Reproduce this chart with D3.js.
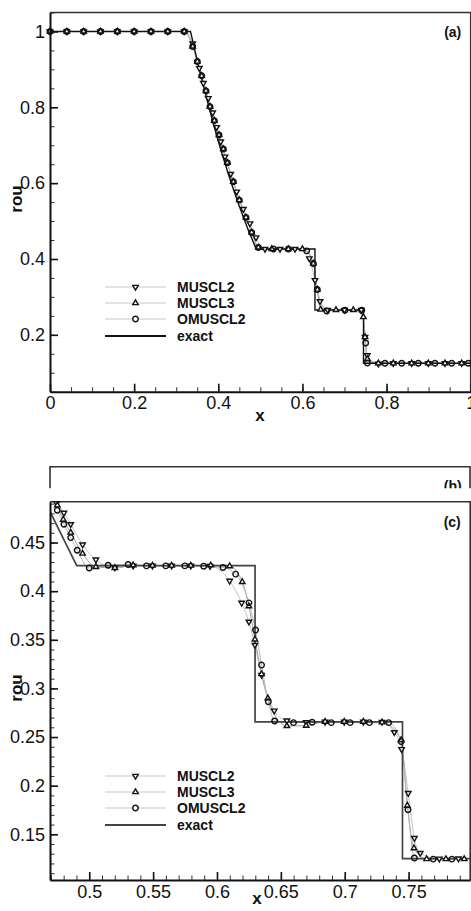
<!DOCTYPE html>
<html><head><meta charset="utf-8">
<script src="https://cdn.jsdelivr.net/npm/d3@7"></script>
<style>body{margin:0;background:#fff}svg{display:block}</style>
</head><body><svg id="chart" width="471" height="911"></svg>
<script>
// ---------------- data ----------------
const seriesNames = ["MUSCL2", "MUSCL3", "OMUSCL2", "exact"];

// exact solution (shared by both panels)
const exactX   = [0, 0.334, 0.35, 0.37, 0.39, 0.41, 0.43, 0.45, 0.47, 0.4902, 0.6298, 0.6298, 0.7452, 0.7452, 1];
const exactRho = [1, 1, 0.923, 0.833, 0.750, 0.673, 0.603, 0.539, 0.480, 0.4263, 0.4263, 0.2656, 0.2656, 0.125, 0.125];

// panel (a) symbols
const aMuscl2X   = [0,0.04,0.08,0.12,0.16,0.2,0.24,0.28,0.319,0.3392,0.355,0.3645,0.3763,0.3867,0.3962,0.4057,0.416,0.4295,0.4437,0.4595,0.4754,0.4897,0.511,0.5467,0.5824,0.6164,0.6299,0.6418,0.66,0.70,0.74,0.7488,0.7543,0.7804,0.816,0.8597,0.8992,0.9389,0.9786];
const aMuscl2Rho = [1,1,1,1,1,1,1,1,1,0.968,0.9033,0.8637,0.824,0.786,0.7474,0.7094,0.6697,0.624,0.5773,0.5316,0.4938,0.4568,0.4263,0.4263,0.4263,0.4013,0.344,0.2885,0.2656,0.2656,0.2656,0.1942,0.1458,0.1237,0.125,0.125,0.125,0.125,0.125];
const aMuscl3X   = [0,0.04,0.08,0.12,0.16,0.2,0.24,0.28,0.319,0.3392,0.3502,0.3606,0.3708,0.3803,0.3906,0.4017,0.412,0.4215,0.4358,0.45,0.4659,0.4794,0.4952,0.527,0.5666,0.6,0.6259,0.6354,0.6434,0.6798,0.721,0.7448,0.7488,0.7543,0.7804,0.816,0.8597,0.8992,0.9389,0.9786];
const aMuscl3Rho = [1,1,1,1,1,1,1,1,1,0.9604,0.9207,0.883,0.8433,0.8018,0.7649,0.7271,0.6901,0.6539,0.6037,0.5553,0.5096,0.47,0.4304,0.4263,0.4263,0.4263,0.388,0.3194,0.2666,0.2656,0.2656,0.247,0.1942,0.136,0.125,0.125,0.125,0.125,0.125,0.125];
const aOmusclX   = [0,0.04,0.08,0.12,0.16,0.2,0.24,0.28,0.319,0.3392,0.3502,0.3606,0.3708,0.3803,0.3906,0.4017,0.412,0.4215,0.4358,0.45,0.4659,0.4794,0.4952,0.531,0.5666,0.6102,0.6259,0.6354,0.6577,0.7012,0.741,0.7504,0.7545,0.7963,0.836,0.8755,0.9151,0.9548,0.9943];
const aOmusclRho = [1,1,1,1,1,1,1,1,1,0.9604,0.9207,0.883,0.8433,0.8018,0.7649,0.7271,0.6901,0.6539,0.6037,0.5553,0.5096,0.47,0.4304,0.4263,0.4263,0.4214,0.388,0.3194,0.2629,0.2647,0.2647,0.1783,0.1255,0.125,0.125,0.125,0.125,0.125,0.125];

// panel (c) symbols (zoom)
const cMuscl2X   = [0.4745,0.4802,0.4855,0.4948,0.5052,0.5201,0.5344,0.5495,0.5645,0.5795,0.5945,0.6099,0.6193,0.625,0.6297,0.6349,0.6448,0.6547,0.6698,0.6846,0.6996,0.7146,0.7292,0.7388,0.7445,0.7497,0.7545,0.7591,0.774,0.789];
const cMuscl2Rho = [0.4905,0.4805,0.4688,0.4479,0.4325,0.4243,0.4262,0.4262,0.4262,0.4262,0.4258,0.4106,0.388,0.3685,0.3446,0.3138,0.2771,0.2669,0.2652,0.2656,0.2656,0.2656,0.2655,0.2549,0.2375,0.1923,0.1461,0.1307,0.1249,0.125];
const cMuscl3X   = [0.475,0.4797,0.4855,0.4948,0.5052,0.5201,0.5344,0.5495,0.5645,0.5795,0.5951,0.6099,0.6198,0.625,0.6297,0.6349,0.6398,0.6547,0.6698,0.6846,0.6996,0.7146,0.7292,0.7441,0.749,0.7542,0.7641,0.7792,0.7935];
const cMuscl3Rho = [0.4883,0.4736,0.4603,0.4387,0.425,0.4239,0.4267,0.4264,0.4264,0.4264,0.4267,0.4257,0.4095,0.3846,0.3504,0.3148,0.2898,0.2614,0.2617,0.2658,0.2658,0.2658,0.2652,0.247,0.1795,0.1358,0.1245,0.1245,0.1245];
const cOmusclX   = [0.475,0.4802,0.4855,0.4906,0.5,0.5148,0.5305,0.5448,0.5599,0.5748,0.5896,0.6047,0.6146,0.625,0.6302,0.6349,0.6402,0.6451,0.6599,0.6745,0.6894,0.7042,0.7193,0.7344,0.7441,0.7495,0.7545,0.7693,0.7839];
const cOmusclRho = [0.4832,0.4688,0.4551,0.4421,0.4239,0.4267,0.4274,0.426,0.426,0.426,0.4257,0.4243,0.4175,0.388,0.36,0.324,0.2863,0.2665,0.2648,0.2652,0.2648,0.2648,0.2648,0.2648,0.2453,0.1752,0.1256,0.1245,0.1245];

// ticks
const aXTicks = [0, 0.2, 0.4, 0.6, 0.8, 1];
const aXTickLabels = ["0", "0.2", "0.4", "0.6", "0.8", "1"];
const aYTicks = [0.2, 0.4, 0.6, 0.8, 1];
const aYTickLabels = ["0.2", "0.4", "0.6", "0.8", "1"];
const cXTicks = [0.5, 0.55, 0.6, 0.65, 0.7, 0.75];
const cXTickLabels = ["0.5", "0.55", "0.6", "0.65", "0.7", "0.75"];
const cYTicks = [0.15, 0.2, 0.25, 0.3, 0.35, 0.4, 0.45];
const cYTickLabels = ["0.15", "0.2", "0.25", "0.3", "0.35", "0.4", "0.45"];

// ---------------- drawing ----------------
const FONT = '"Liberation Sans", Arial, Helvetica, sans-serif';
const svg = d3.select("#chart");
svg.append("rect").attr("width", 471).attr("height", 911).attr("fill", "#fff");

const zip = (xs, ys) => xs.map((v, i) => ({x: v, y: ys[i]}));
const symTri = d3.symbol().type(d3.symbolTriangle).size(13);
const symCirc = d3.symbol().type(d3.symbolCircle).size(24);
const markerDefs = {
  MUSCL2: {path: symTri(), rot: 180, fill: "#fff"},
  MUSCL3: {path: symTri(), rot: 0, fill: "#fff"},
  OMUSCL2: {path: symCirc(), rot: 0, fill: "none"}
};
const lineColors = {MUSCL2: "#c2c2c2", MUSCL3: "#9e9e9e", OMUSCL2: "#b8b8b8"};

function minorRange(a, b, step) {
  const out = [];
  const n = Math.round((b - a) / step);
  for (let i = 0; i <= n; i++) out.push(+(a + i * step).toFixed(6));
  return out;
}

function panel(cfg) {
  const g = svg.append("g");
  const x = d3.scaleLinear().domain(cfg.xDomain).range([cfg.left, cfg.right]);
  const y = d3.scaleLinear().domain(cfg.yDomain).range([cfg.bottom, cfg.top]);

  g.append("rect").attr("x", 0).attr("y", cfg.bgTop).attr("width", 471)
    .attr("height", cfg.bgBottom - cfg.bgTop).attr("fill", "#fff");

  const clipId = "clip" + cfg.id;
  g.append("clipPath").attr("id", clipId).append("rect")
    .attr("x", cfg.left).attr("y", cfg.top)
    .attr("width", cfg.right - cfg.left).attr("height", cfg.bottom - cfg.top);

  g.append("path").attr("d", `M${cfg.left},${cfg.top}H${cfg.right}V${cfg.bottom}`)
    .attr("fill", "none").attr("stroke", "#333").attr("stroke-width", 1.6);

  const plot = g.append("g").attr("clip-path", `url(#${clipId})`);
  const line = d3.line().x(d => x(d.x)).y(d => y(d.y));

  cfg.series.forEach(s => {
    plot.append("path").datum(zip(s.xs, s.ys))
      .attr("d", line.curve(d3.curveMonotoneX))
      .attr("fill", "none").attr("stroke", lineColors[s.name]).attr("stroke-width", 1);
  });
  plot.append("path").datum(zip(exactX, exactRho))
    .attr("d", line.curve(d3.curveLinear))
    .attr("fill", "none").attr("stroke", cfg.exactColor).attr("stroke-width", cfg.exactWidth);

  const [x0, x1] = cfg.xDomain, [y0, y1] = cfg.yDomain;
  cfg.series.forEach(s => {
    const m = markerDefs[s.name];
    g.append("g").selectAll("path")
      .data(zip(s.xs, s.ys).filter(d => d.x >= x0 && d.x <= x1 && d.y >= y0 && d.y <= y1))
      .join("path")
      .attr("d", m.path)
      .attr("transform", d => `translate(${x(d.x)},${y(d.y)}) rotate(${m.rot})`)
      .attr("fill", m.fill).attr("stroke", "#111").attr("stroke-width", 1.4);
  });

  const xAxis = d3.axisBottom(x).tickValues(cfg.xTicks).tickFormat((d, i) => cfg.xTickLabels[i])
    .tickSize(-8).tickSizeOuter(0).tickPadding(5);
  const xMinor = d3.axisBottom(x).tickValues(cfg.xMinor).tickFormat("").tickSize(-4.5).tickSizeOuter(0);
  const yAxis = d3.axisLeft(y).tickValues(cfg.yTicks).tickFormat((d, i) => cfg.yTickLabels[i])
    .tickSize(-8).tickSizeOuter(0).tickPadding(5);
  const yMinor = d3.axisLeft(y).tickValues(cfg.yMinor).tickFormat("").tickSize(-4.5).tickSizeOuter(0);

  [[xMinor, "x"], [yMinor, "y"]].forEach(([ax, k]) => {
    const a = g.append("g")
      .attr("transform", k === "x" ? `translate(0,${cfg.bottom})` : `translate(${cfg.left},0)`)
      .call(ax);
    a.select(".domain").remove();
    a.selectAll("line").attr("stroke", "#333").attr("stroke-width", 1);
  });
  [[xAxis, "x"], [yAxis, "y"]].forEach(([ax, k]) => {
    const a = g.append("g")
      .attr("transform", k === "x" ? `translate(0,${cfg.bottom})` : `translate(${cfg.left},0)`)
      .call(ax);
    a.attr("font-family", FONT).attr("font-size", 18);
    a.select(".domain").attr("stroke", "#111").attr("stroke-width", 2);
    a.selectAll(".tick line").attr("stroke", "#111").attr("stroke-width", 1.6);
    a.selectAll(".tick text").attr("fill", "#111");
  });

  g.append("text").attr("x", cfg.xTitle[0]).attr("y", cfg.xTitle[1])
    .attr("text-anchor", "middle").attr("font-family", FONT).attr("font-weight", "bold")
    .attr("font-size", 17).attr("fill", "#111").text("x");
  g.append("text").attr("transform", `translate(${cfg.yTitle[0]},${cfg.yTitle[1]}) rotate(-90)`)
    .attr("text-anchor", "middle").attr("font-family", FONT).attr("font-weight", "bold")
    .attr("font-size", 17).attr("fill", "#111").text("rou");

  g.append("text").attr("x", cfg.right - 18).attr("y", cfg.tag[1])
    .attr("text-anchor", "middle").attr("font-family", FONT).attr("font-weight", "bold")
    .attr("font-size", 14).attr("fill", "#111").text(cfg.tag[0]);

  const lg = g.append("g");
  seriesNames.forEach((name, i) => {
    const ry = cfg.legendY[i];
    const isExact = name === "exact";
    lg.append("line").attr("x1", 105).attr("x2", 166).attr("y1", ry).attr("y2", ry)
      .attr("stroke", isExact ? cfg.exactColor : "#c8c8c8")
      .attr("stroke-width", isExact ? cfg.exactWidth + 0.4 : 1.2);
    if (!isExact) {
      const m = markerDefs[name];
      lg.append("path").attr("d", m.path)
        .attr("transform", `translate(135.5,${ry}) rotate(${m.rot})`)
        .attr("fill", m.fill === "none" ? "#fff" : m.fill).attr("stroke", "#111").attr("stroke-width", 1.4);
    }
    lg.append("text").attr("x", 177).attr("y", ry + 5)
      .attr("font-family", FONT).attr("font-weight", "bold").attr("font-size", 14)
      .attr("fill", "#111").text(name);
  });
}

// panel (a)
panel({
  id: "a", xDomain: [0, 1], yDomain: [0.05, 1.05],
  left: 50, right: 470.7, top: 12.5, bottom: 391.7, bgTop: 0, bgBottom: 440,
  xTicks: aXTicks, xTickLabels: aXTickLabels, yTicks: aYTicks, yTickLabels: aYTickLabels,
  xMinor: minorRange(0, 1, 0.05), yMinor: minorRange(0.05, 1.05, 0.05),
  series: [
    {name: "MUSCL2", xs: aMuscl2X, ys: aMuscl2Rho},
    {name: "MUSCL3", xs: aMuscl3X, ys: aMuscl3Rho},
    {name: "OMUSCL2", xs: aOmusclX, ys: aOmusclRho}
  ],
  exactColor: "#111", exactWidth: 1.4,
  xTitle: [260, 421], yTitle: [22, 199], tag: ["(a)", 37],
  legendY: [287, 303, 319, 336]
});

// panel (b) remnant (covered by panel c)
const gb = svg.append("g");
gb.append("clipPath").attr("id", "clipb").append("rect").attr("x", 0).attr("y", 460).attr("width", 471).attr("height", 28.5);
const gbc = gb.append("g").attr("clip-path", "url(#clipb)");
gbc.append("path").attr("d", "M50,495V466.7H470V495").attr("fill", "none").attr("stroke", "#333").attr("stroke-width", 1.6);
gbc.append("text").attr("x", 452.7).attr("y", 491).attr("text-anchor", "middle")
  .attr("font-family", FONT).attr("font-weight", "bold").attr("font-size", 14).attr("fill", "#111").text("(b)");

// panel (c)
panel({
  id: "c", xDomain: [0.4693, 0.7982], yDomain: [0.103, 0.492],
  left: 50, right: 470.2, top: 501.7, bottom: 880, bgTop: 488.5, bgBottom: 911,
  xTicks: cXTicks, xTickLabels: cXTickLabels, yTicks: cYTicks, yTickLabels: cYTickLabels,
  xMinor: minorRange(0.47, 0.79, 0.01), yMinor: minorRange(0.11, 0.49, 0.01),
  series: [
    {name: "MUSCL2", xs: cMuscl2X, ys: cMuscl2Rho},
    {name: "MUSCL3", xs: cMuscl3X, ys: cMuscl3Rho},
    {name: "OMUSCL2", xs: cOmusclX, ys: cOmusclRho}
  ],
  exactColor: "#444", exactWidth: 1.7,
  xTitle: [257, 904], yTitle: [22, 688], tag: ["(c)", 527],
  legendY: [776, 792, 808, 825]
});
</script>
</body></html>
